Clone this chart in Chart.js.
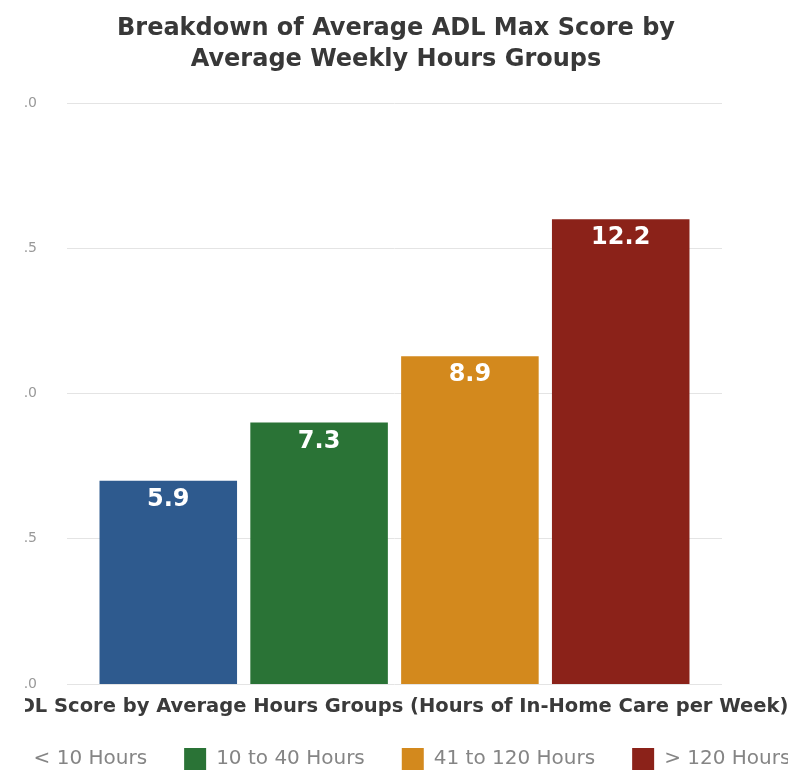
<!DOCTYPE html>
<html>
<head>
<meta charset="utf-8">
<script src="https://cdn.jsdelivr.net/npm/chart.js@4.4.1/dist/chart.umd.min.js"></script>
<style>
    html, body { margin: 0; padding: 0; background: #fff; overflow: hidden; }
    /* visible frame: the chart is wider than the page and gets trimmed at both sides */
    #frame { position: absolute; left: 25px; top: 0; width: 763px; height: 771px; overflow: hidden; }
    #adlChart { position: absolute; left: -89px; top: 0; }
</style>
</head>
<body>
<div id="frame">
    <canvas id="adlChart" width="920" height="780"></canvas>
</div>
<script>
        // Hour groups and their average ADL max score
        const groups = ['< 10 Hours', '10 to 40 Hours', '41 to 120 Hours', '> 120 Hours'];
        const scores = [5.9, 7.3, 8.9, 12.2];
        const groupColors = ['#2e5a8e', '#2a7336', '#d3891d', '#8b2219'];

        // Y axis range and tick step
        const yMin = 1.0;
        const yMax = 15.0;
        const yStep = 3.5;

        const font = 'DejaVu Sans';

        // Writes the score in white just under the top of each bar
        const barValueLabels = {
            id: 'barValueLabels',
            afterDatasetsDraw(chart) {
                const ctx = chart.ctx;
                ctx.save();
                ctx.fillStyle = '#ffffff';
                ctx.font = 'bold 24px "' + font + '"';
                ctx.textAlign = 'center';
                ctx.textBaseline = 'middle';
                chart.data.datasets.forEach((ds, i) => {
                    const bar = chart.getDatasetMeta(i).data[0];
                    ctx.fillText(ds.data[0].toFixed(1), bar.x, bar.y + 19);
                });
                ctx.restore();
            }
        };

        const ctx = document.getElementById('adlChart').getContext('2d');
        const chart = new Chart(ctx, {
            type: 'bar',
            data: {
                labels: [''],
                datasets: groups.map((g, i) => ({
                    label: g,
                    data: [scores[i]],
                    backgroundColor: groupColors[i],
                    borderWidth: 0,
                    categoryPercentage: 0.921,
                    barPercentage: 0.912
                }))
            },
            options: {
                responsive: false,
                animation: false,
                layout: { padding: 0 },
                plugins: {
                    title: {
                        display: true,
                        text: ['Breakdown of Average ADL Max Score by', 'Average Weekly Hours Groups'],
                        color: '#383838',
                        font: { family: font, size: 24, weight: 'bold', lineHeight: 1.3 },
                        padding: { top: 13, bottom: 27.6 }
                    },
                    // axis caption below the bars, as a full-width bottom subtitle so it is not squeezed
                    subtitle: {
                        display: true,
                        position: 'bottom',
                        weight: 500,
                        text: 'ADL Score by Average Hours Groups (Hours of In-Home Care per Week)',
                        color: '#3a3a3a',
                        font: { family: font, size: 19.5, weight: 'bold', lineHeight: 1.2 },
                        padding: { top: 11.3, bottom: -7.7 }
                    },
                    legend: {
                        position: 'bottom',
                        weight: 2000,
                        labels: {
                            color: '#858585',
                            font: { family: font, size: 20 },
                            boxWidth: 22,
                            boxHeight: 22,
                            padding: 37
                        }
                    },
                    tooltip: { enabled: false }
                },
                scales: {
                    x: { display: false },
                    y: {
                        min: yMin,
                        max: yMax,
                        grid: { color: '#e4e4e4', lineWidth: 1, drawTicks: false },
                        border: { display: false },
                        ticks: {
                            stepSize: yStep,
                            padding: 30,
                            color: '#999999',
                            font: { family: font, size: 14 },
                            callback: v => v.toFixed(1)
                        },
                        afterFit: scale => { scale.width = 131; }
                    },
                    // empty axis on the right keeps the plot centred under the title
                    yRight: {
                        position: 'right',
                        grid: { display: false },
                        border: { display: false },
                        ticks: { display: false },
                        afterFit: scale => { scale.width = 134; }
                    }
                }
            },
            plugins: [barValueLabels]
        });
</script>
</body>
</html>
